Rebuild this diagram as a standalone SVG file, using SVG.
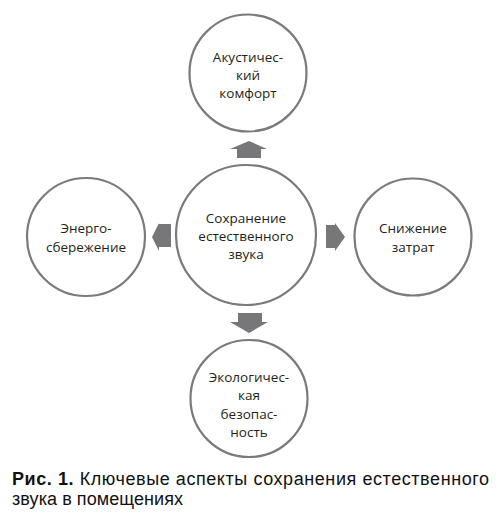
<svg xmlns="http://www.w3.org/2000/svg" width="500" height="524" viewBox="0 0 500 524">
<style>
.c{fill:#fff;stroke:#7a7a7c;stroke-width:2.2}
.t{font-family:"Open Sans","Noto Sans",sans-serif;font-size:13.5px;fill:#231f20;text-anchor:middle}
.a{fill:#77777a}
.cap{font-family:"Liberation Sans",Arial,sans-serif;font-size:18px;fill:#111}
</style>
<rect width="500" height="524" fill="#fff"/>
<g id="connectors">
<path class="a" d="M237,158 V149 H230 L249,141 L267,149 H261 V158 Z"/>
<path class="a" d="M171,224 V247 H159 V251 L152,237 L159,223 V224 Z"/>
<path class="a" d="M326,225 V248 H335 V251 L345,237 L335,223 V225 Z"/>
<path class="a" d="M238,313 H262 V322 H268 L249,333 L230,322 H238 Z"/>
</g>
<g id="center">
<circle class="c" cx="246" cy="235" r="70"/>
<text class="t" x="246" y="223">Сохранение</text>
<text class="t" x="246" y="241">естественного</text>
<text class="t" x="246" y="259">звука</text>
</g>
<g id="top">
<circle class="c" cx="248" cy="73" r="58.5"/>
<text class="t" x="248" y="62">Акустичес-</text>
<text class="t" x="248" y="80">кий</text>
<text class="t" x="248" y="98">комфорт</text>
</g>
<g id="left">
<circle class="c" cx="86" cy="237" r="59"/>
<text class="t" x="86" y="233">Энерго-</text>
<text class="t" x="86" y="252">сбережение</text>
</g>
<g id="right">
<circle class="c" cx="413" cy="237" r="58.5"/>
<text class="t" x="413" y="233">Снижение</text>
<text class="t" x="413" y="252">затрат</text>
</g>
<g id="bottom">
<circle class="c" cx="249" cy="398.5" r="58.5"/>
<text class="t" x="249" y="382">Экологичес-</text>
<text class="t" x="249" y="400">кая</text>
<text class="t" x="249" y="419">безопас-</text>
<text class="t" x="249" y="437">ность</text>
</g>
<g id="caption">
<text class="cap" x="12" y="485" textLength="477" lengthAdjust="spacing"><tspan font-weight="bold">Рис. 1.</tspan> Ключевые аспекты сохранения естественного</text>
<text class="cap" x="12" y="505" textLength="171" lengthAdjust="spacing">звука в помещениях</text>
</g>
</svg>
